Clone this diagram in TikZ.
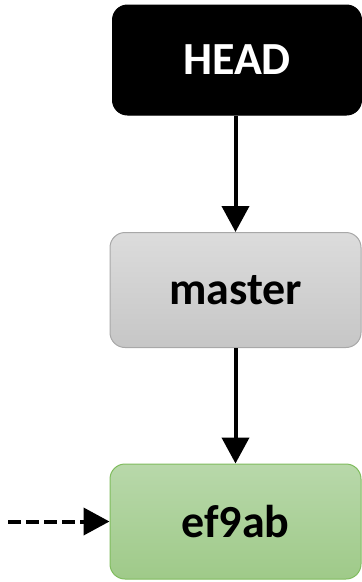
\documentclass[tikz,border=0pt]{standalone}
\usepackage{fontspec}
\setmainfont{Carlito}
\usetikzlibrary{arrows.meta}
\definecolor{mgtop}{HTML}{DCDCDC}
\definecolor{mgbot}{HTML}{C6C6C6}
\definecolor{mgline}{HTML}{A8A8A8}
\definecolor{grtop}{HTML}{B8D8AA}
\definecolor{grbot}{HTML}{9FCA89}
\definecolor{grline}{HTML}{80BC5E}
\begin{document}
\begin{tikzpicture}[x=1pt,y=1pt,
  box/.style={rectangle, rounded corners=15pt, minimum width=251pt, minimum height=115pt,
    font=\fontsize{46}{48}\selectfont\bfseries, inner sep=0pt, line width=1pt},
  link/.style={line width=4pt, -{Triangle[length=26pt,width=27pt]}}]
\useasboundingbox (0,0) rectangle (362,-582);
\node[box, fill=black, draw=black, text=white, minimum width=249pt, minimum height=110pt] (head) at (237,-60) {HEAD};
\node[box, draw=mgline, top color=mgtop, bottom color=mgbot] (master) at (235.5,-290) {master};
\node[box, draw=grline, top color=grtop, bottom color=grbot] (commit) at (235.5,-521.5) {ef9ab};
\coordinate (src) at (8,-521.5);
\draw[link] (head.south -| master.north) -- (master.north);
\draw[link] (master) -- (commit);
\draw[link, dash pattern=on 13pt off 5pt] (src) -- (commit.west);
\end{tikzpicture}
\end{document}
